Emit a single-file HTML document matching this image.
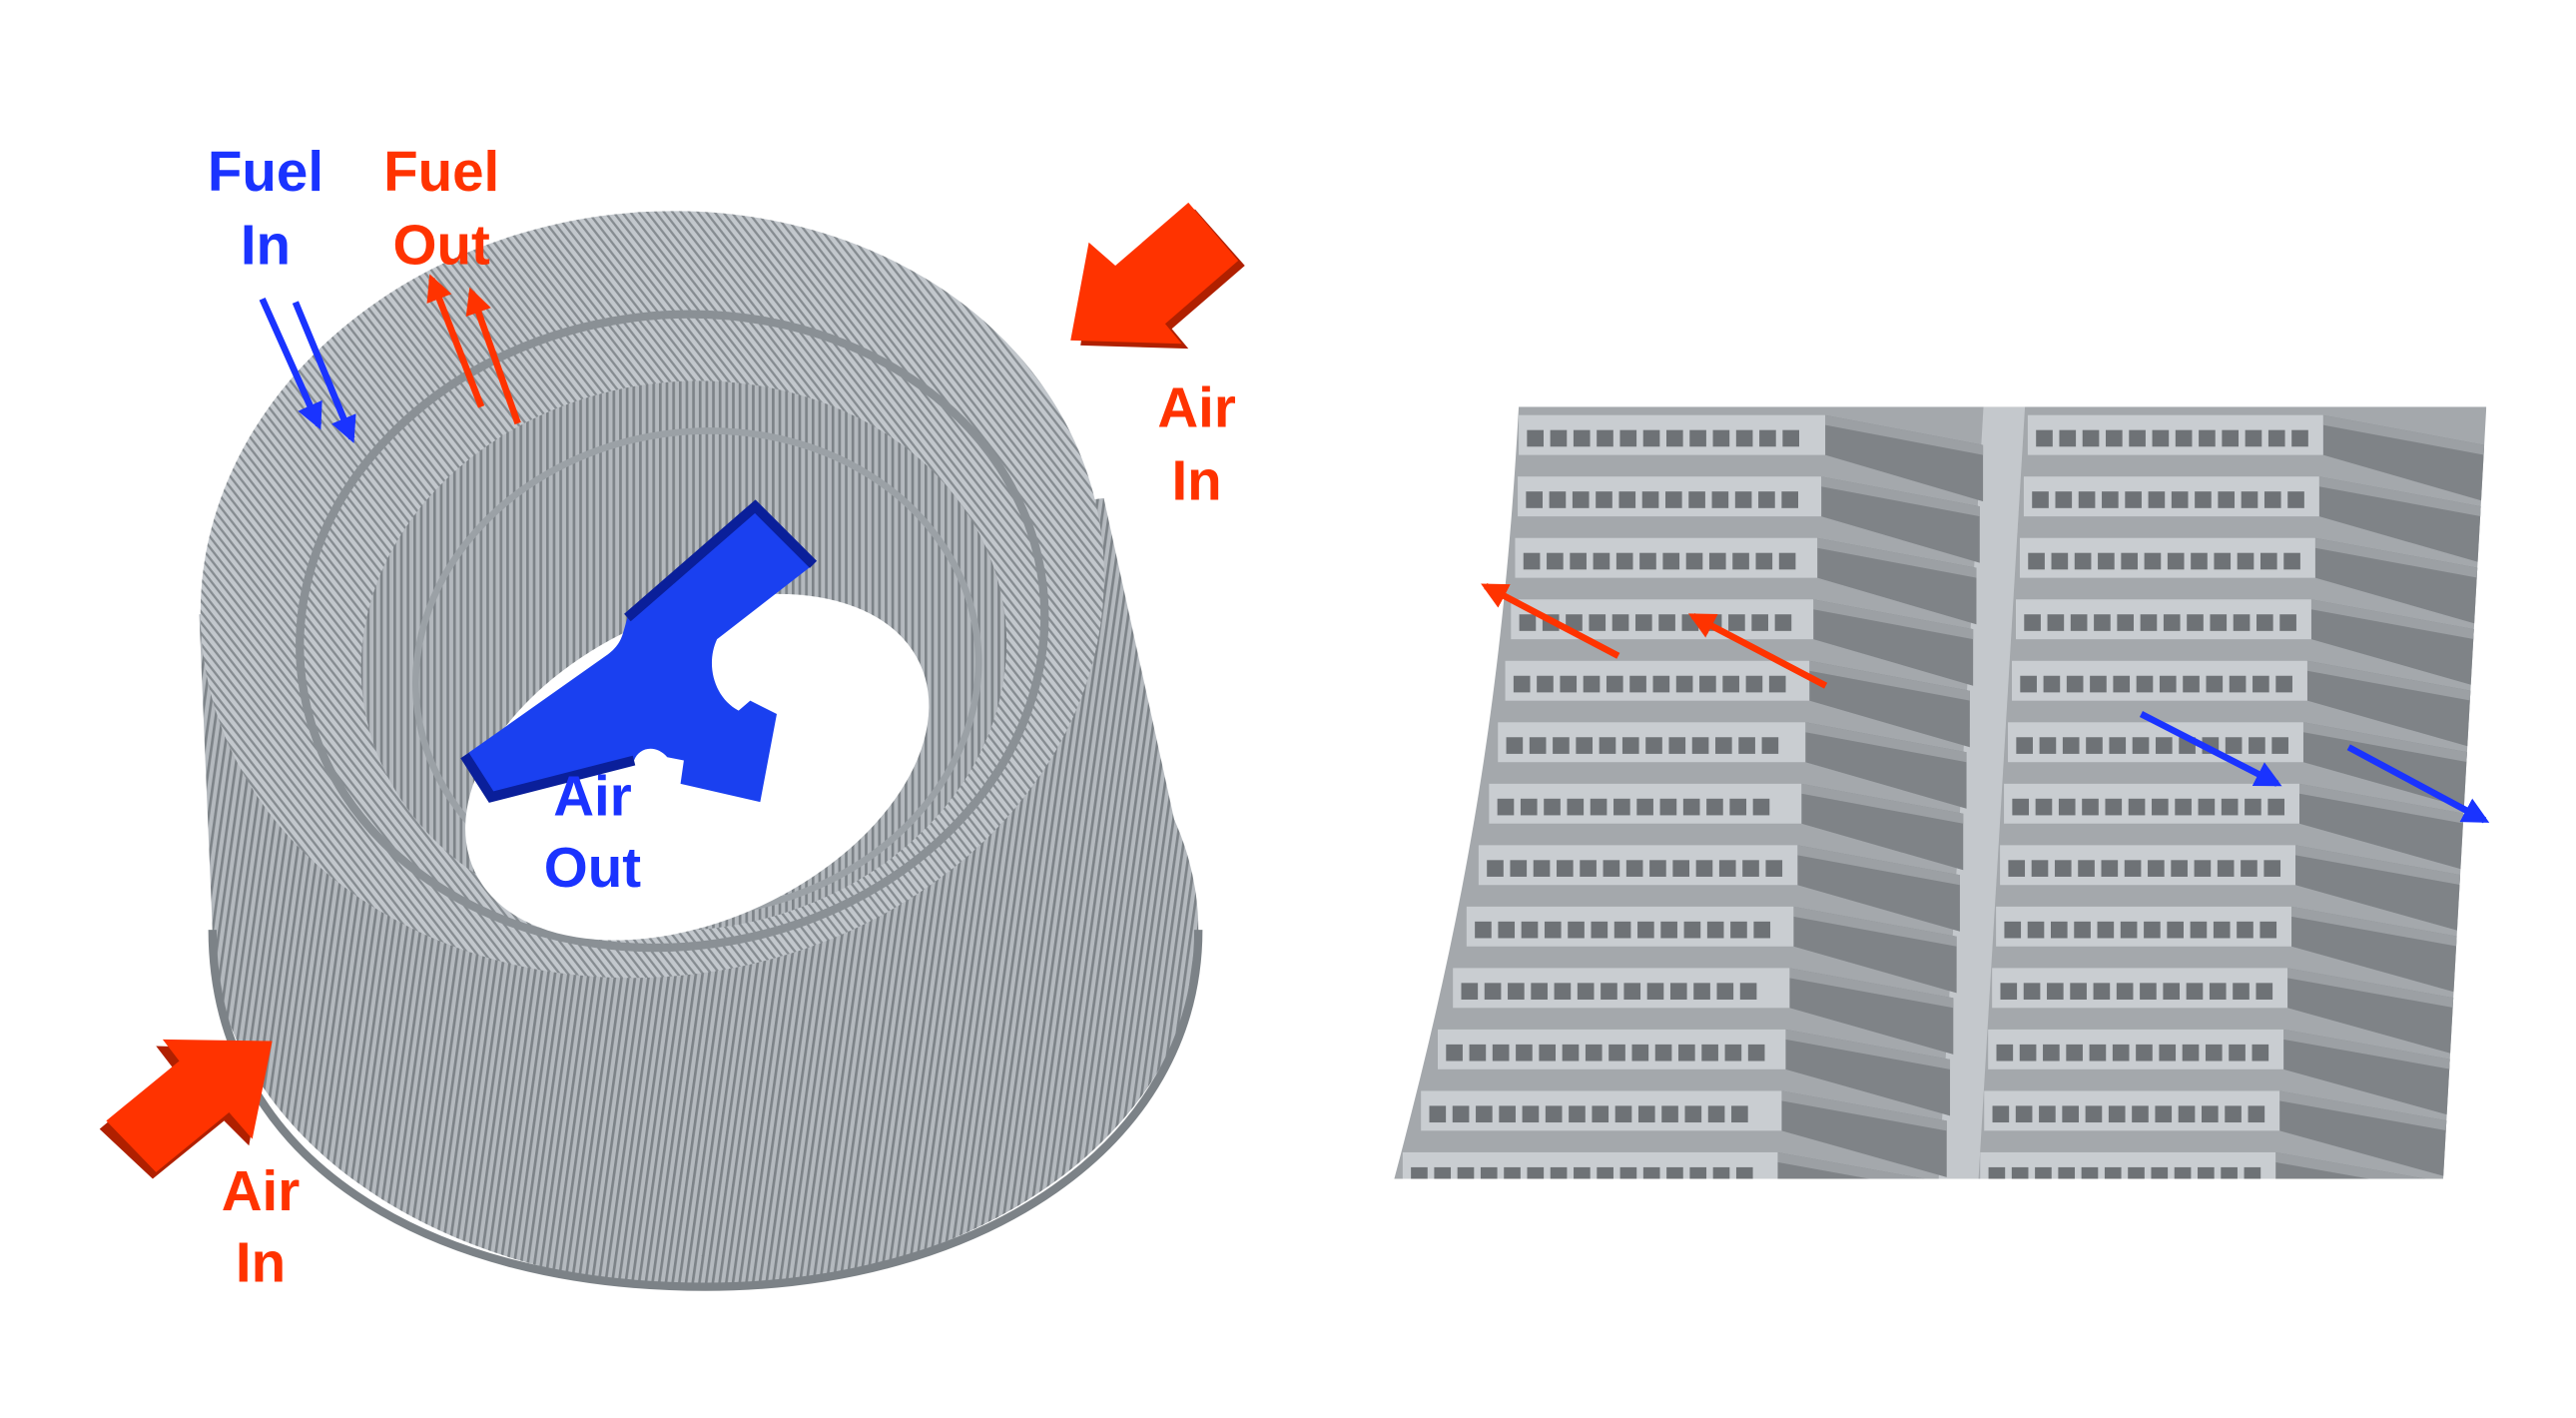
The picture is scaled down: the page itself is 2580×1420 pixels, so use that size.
<!DOCTYPE html>
<html><head><meta charset="utf-8"><style>
html,body{margin:0;padding:0;background:#fff;}
svg{display:block;}
text{font-family:"Liberation Sans",sans-serif;font-weight:bold;font-size:34px;text-anchor:middle;}
.r{fill:#ff3300}.b{fill:#1a33ff}
</style></head><body>
<svg id="s" width="2580" height="1420" viewBox="0 0 1552 854" preserveAspectRatio="none" xmlns="http://www.w3.org/2000/svg">
<defs>
<pattern id="fin" width="4" height="4" patternUnits="userSpaceOnUse" patternTransform="rotate(8)">
<rect width="4" height="4" fill="#b4b9be"/><rect width="1.6" height="4" fill="#7d8388"/>
</pattern>
<pattern id="fin2" width="4" height="4" patternUnits="userSpaceOnUse" patternTransform="rotate(-30)">
<rect width="4" height="4" fill="#c2c7cc"/><rect width="1.4" height="4" fill="#868c91"/>
</pattern>
<clipPath id="cp"><path d="M915,245 L1498,245 L1472,710 L840,710 C880,560 905,430 915,245Z"/></clipPath>
<marker id="ar" viewBox="0 0 10 10" refX="8" refY="5" markerWidth="4" markerHeight="4" orient="auto"><path d="M0,0L10,5L0,10z" fill="#ff3300"/></marker>
<marker id="ab" viewBox="0 0 10 10" refX="8" refY="5" markerWidth="4" markerHeight="4" orient="auto"><path d="M0,0L10,5L0,10z" fill="#1a33ff"/></marker>
</defs>
<!-- ring body -->
<g fill="url(#fin)">
<ellipse cx="425" cy="560" rx="297" ry="215"/>
<path d="M120,370 L665,300 L722,560 L128,560 Z"/>
</g>
<path d="M128,560 C128,700 260,775 425,775 C590,775 722,690 722,560" fill="none" stroke="#7c8287" stroke-width="5"/>
<ellipse cx="393" cy="358" rx="273" ry="230" transform="rotate(-8 393 358)" fill="url(#fin2)"/>
<ellipse cx="405" cy="380" rx="225" ry="190" transform="rotate(-8 405 380)" fill="none" stroke="#8a9095" stroke-width="5"/>
<ellipse cx="412" cy="395" rx="195" ry="165" transform="rotate(-8 412 395)" fill="url(#fin)"/>
<ellipse cx="420" cy="405" rx="170" ry="145" transform="rotate(-8 420 405)" fill="none" stroke="#9ba1a6" stroke-width="4"/>
<ellipse cx="420" cy="462" rx="148" ry="92" transform="rotate(-25 420 462)" fill="#fff"/>
<!-- blue Y -->
<path d="M455,305 L490,340 L432,385 C425,400 430,420 445,428 L452,422 L468,430 L458,483 L410,472 L412,458 L402,456 C395,448 385,450 382,458 L296,480 L280,455 L365,395 C375,388 375,382 378,372 Z" fill="#1a40f0"/>
<path d="M280,455 L296,480 L382,458 M378,372 L455,305 L490,340" fill="none" stroke="#0a1f9a" stroke-width="6"/>
<!-- right panel -->
<g clip-path="url(#cp)">
<rect x="830" y="240" width="680" height="480" fill="#a4a8ac"/>
<g id="rows"></g>
</g>
<!-- big 3D arrows -->
<path d="M651,208 L660,150 L675,164 L720,126 L750,160 L706,198 L716,210 Z" fill="#b02000"/>
<path d="M645,205 L656,146 L672,160 L716,122 L746,157 L702,195 L712,207 Z" fill="#ff3300"/>
<path d="M160,632 L150,690 L135,675 L92,710 L60,680 L104,643 L94,630 Z" fill="#b02000"/>
<path d="M164,627 L152,686 L138,670 L94,706 L64,675 L108,639 L98,626 Z" fill="#ff3300"/>
<!-- thin arrows -->
<g stroke-width="4">
<line x1="158" y1="180" x2="192" y2="256" stroke="#1a33ff" marker-end="url(#ab)"/>
<line x1="178" y1="182" x2="212" y2="264" stroke="#1a33ff" marker-end="url(#ab)"/>
<line x1="290" y1="245" x2="260" y2="168" stroke="#ff3300" marker-end="url(#ar)"/>
<line x1="312" y1="255" x2="284" y2="176" stroke="#ff3300" marker-end="url(#ar)"/>
<line x1="975" y1="395" x2="895" y2="353" stroke="#ff3300" marker-end="url(#ar)"/>
<line x1="1100" y1="413" x2="1020" y2="371" stroke="#ff3300" marker-end="url(#ar)"/>
<line x1="1290" y1="430" x2="1372" y2="472" stroke="#1a33ff" marker-end="url(#ab)"/>
<line x1="1415" y1="450" x2="1497" y2="494" stroke="#1a33ff" marker-end="url(#ab)"/>
</g>
<text class="b" x="160" y="115">Fuel</text><text class="b" x="160" y="159">In</text>
<text class="r" x="266" y="115">Fuel</text><text class="r" x="266" y="159">Out</text>
<text class="r" x="721" y="257">Air</text><text class="r" x="721" y="301">In</text>
<text class="r" x="157" y="729">Air</text><text class="r" x="157" y="772">In</text>
<text class="b" x="357" y="491">Air</text><text class="b" x="357" y="534">Out</text>
</svg>
<script>
var g=document.getElementById('rows'),NS='http://www.w3.org/2000/svg';
function el(t,a){var e=document.createElementNS(NS,t);for(var k in a)e.setAttribute(k,a[k]);g.appendChild(e);return e;}
function xl(y){var t=(y-245)/465;return 915-75*t*t;}
el('path',{d:'M1195,245 L1220,245 L1192,710 L1168,710Z',fill:'#c4c8cc'});
for(var y=250;y<705;y+=37){
 var t=(y-245)/465;
 var cols=[[xl(y),1100-30*t,1195-25*t],[1222-30*t,1400-30*t,1497-25*t]];
 cols.forEach(function(c){
  var a=c[0],b=c[1],e=c[2];
  el('path',{d:'M'+b+','+(y)+' L'+e+','+(y+18)+' L'+e+','+(y+52)+' L'+b+','+(y+24)+'Z',fill:'#7f8387'});
  el('path',{d:'M'+b+','+(y)+' L'+e+','+(y+18)+' L'+e+','+(y+24)+' L'+b+','+(y+6)+'Z',fill:'#9ca0a4'});
  el('rect',{x:a,y:y,width:b-a,height:24,fill:'#c9cdd1'});
  var n=Math.floor((b-a-8)/14);
  for(var i=0;i<n;i++)el('rect',{x:a+5+i*14,y:y+9,width:10,height:10,fill:'#6e7276'});
 });
}
</script>
</body></html>
